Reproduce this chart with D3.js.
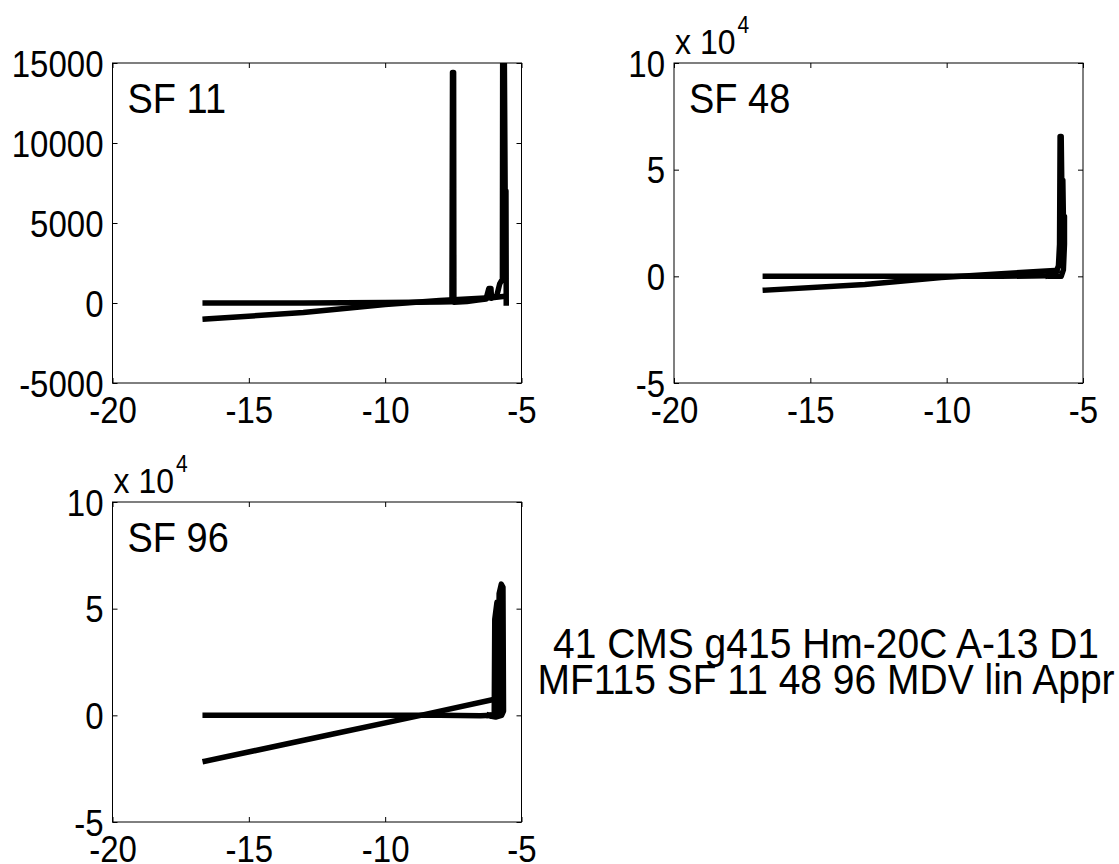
<!DOCTYPE html>
<meta charset="utf-8">
<style>
body { margin: 0; background: #fff; }
text { font-family: "Liberation Sans", Arial, sans-serif; fill: #000;
       transform-box: fill-box; transform-origin: center; transform: scaleY(1.1); }
.trace { fill: none; stroke: #000; stroke-width: 5.5px; stroke-linejoin: round; stroke-linecap: square; }
.box { fill: none; stroke: #000; stroke-width: 1px; }
.tick line { stroke: #000; }
</style>
<body>
<script src="https://cdnjs.cloudflare.com/ajax/libs/d3/7.8.5/d3.min.js"></script>
<script>

// shared x ticks
var xTicks = [-20, -15, -10, -5];

// y ticks for each panel
var sf11Ticks = [-5000, 0, 5000, 10000, 15000];
var sf48Ticks = [-50000, 0, 50000, 100000];
var sf96Ticks = [-50000, 0, 50000, 100000];

// SF 11 traces [x, y]
var sf11Flat = [[-16.6, 0], [-13, 0], [-10, 30], [-8, 60], [-7.55, 80], [-7.53, 14400], [-7.49, 14400],
  [-7.48, 50], [-7.0, 100], [-6.6, 180], [-6.3, 250], [-6.2, 900], [-6.12, 900], [-6.1, 300],
  [-5.9, 500], [-5.8, 1200], [-5.7, 1500], [-5.69, 15500], [-5.63, 15500], [-5.6, 7000],
  [-5.57, 7000], [-5.56, 0]];
var sf11Slope = [[-16.6, -1000], [-13, -600], [-10, -100], [-8, 150], [-6, 350], [-5.7, 400]];

// SF 48 traces
var sf48Flat = [[-16.65, 0], [-12, 0], [-8, 0], [-6.3, 300], [-6.0, 600]];
var sf48Slope = [[-16.65, -6500], [-13, -3800], [-10.2, -600], [-8, 1200], [-6.2, 2600], [-5.95, 2800]];
var sf48Spike = [[-6.3, 300], [-6.0, 1500], [-5.9, 5000], [-5.86, 15000], [-5.84, 65500], [-5.8, 65500],
  [-5.78, 45000], [-5.74, 45000], [-5.72, 28000], [-5.68, 28000], [-5.68, 15000], [-5.72, 3000],
  [-5.8, 0], [-6.2, 0]];

// SF 96 traces
var sf96Flat = [[-16.6, 0], [-12, 0], [-8, 0], [-6.5, -200], [-6.2, 0]];
var sf96Slope = [[-16.6, -21500], [-12, -9000], [-8.7, 0], [-6, 7500]];
var sf96Spike = [[-6.2, 0], [-6.0, 500], [-5.98, 45000], [-5.9, 53000], [-5.86, 1500], [-5.82, 57000],
  [-5.74, 61500], [-5.68, 60000], [-5.66, 2000], [-5.73, 0], [-5.95, -800], [-6.1, -500], [-6.2, 0]];

// annotation
var noteLines = ["41 CMS g415 Hm-20C A-13 D1", "MF115 SF 11 48 96 MDV lin Appr"];

var W = 1119, H = 864;
var svg = d3.select("body").append("svg")
    .attr("width", W)
    .attr("height", H);

var pw = 409, ph = 320;

// plain hyphen minus, like the original labels
function plain(d) { return String(d); }

var panels = [
  {name: "SF 11", left: 112.5, top: 63, yDom: [-5000, 15000], ticks: sf11Ticks,
   fmt: plain, exp: false, traces: [sf11Flat, sf11Slope]},
  {name: "SF 48", left: 674, top: 63, yDom: [-50000, 100000], ticks: sf48Ticks,
   fmt: function(d) { return String(d / 1e4); }, exp: true, traces: [sf48Flat, sf48Slope, sf48Spike]},
  {name: "SF 96", left: 112.5, top: 502, yDom: [-50000, 100000], ticks: sf96Ticks,
   fmt: function(d) { return String(d / 1e4); }, exp: true, traces: [sf96Flat, sf96Slope, sf96Spike]}
];

panels.forEach(function(p, i) {
  var x = d3.scaleLinear().domain([-20, -5]).range([0, pw]);
  var y = d3.scaleLinear().domain(p.yDom).range([ph, 0]);

  var g = svg.append("g")
      .attr("transform", "translate(" + p.left + "," + p.top + ")");

  g.append("clipPath").attr("id", "clip" + i)
    .append("rect").attr("width", pw).attr("height", ph);

  var line = d3.line()
      .x(function(d) { return x(d[0]); })
      .y(function(d) { return y(d[1]); });

  g.append("g").attr("clip-path", "url(#clip" + i + ")")
    .selectAll("path")
    .data(p.traces)
    .enter().append("path")
      .attr("class", "trace")
      .attr("d", line);

  // bottom axis
  g.append("g")
      .attr("transform", "translate(0," + ph + ")")
      .call(d3.axisBottom(x).tickValues(xTicks).tickSizeInner(-5).tickSizeOuter(0)
        .tickPadding(15).tickFormat(plain));
  // top axis (ticks only)
  g.append("g")
      .call(d3.axisTop(x).tickValues(xTicks).tickSizeInner(-5).tickSizeOuter(0).tickFormat(""));
  // left axis
  var yl = g.append("g")
      .call(d3.axisLeft(y).tickValues(p.ticks).tickSizeInner(-5).tickSizeOuter(0)
        .tickPadding(9).tickFormat(p.fmt));
  // right axis (ticks only)
  g.append("g")
      .attr("transform", "translate(" + pw + ",0)")
      .call(d3.axisRight(y).tickValues(p.ticks).tickSizeInner(-5).tickSizeOuter(0).tickFormat(""));

  g.selectAll(".domain").remove();
  g.selectAll(".tick text").style("font-size", "33px")
    .style("font-family", "'Liberation Sans', Arial, sans-serif");
  yl.selectAll(".tick text").attr("dy", "0.36em");

  g.append("rect").attr("class", "box").attr("width", pw).attr("height", ph);

  g.append("text")
      .attr("x", 15)
      .attr("y", 49)
      .style("font-size", "38px")
      .text(p.name);

  if (p.exp) {
    var t = g.append("text")
        .attr("x", 1)
        .attr("y", -11)
        .style("font-size", "32px")
        .text("x 10");
    t.append("tspan")
        .attr("dy", -19)
        .attr("dx", 2)
        .style("font-size", "21px")
        .text("4");
  }
});

svg.append("g")
    .selectAll("text")
    .data(noteLines)
    .enter().append("text")
      .attr("x", 826)
      .attr("y", function(d, i) { return 657 + i * 36; })
      .attr("text-anchor", "middle")
      .style("font-size", "39px")
      .text(function(d) { return d; });

</script>
</body>
